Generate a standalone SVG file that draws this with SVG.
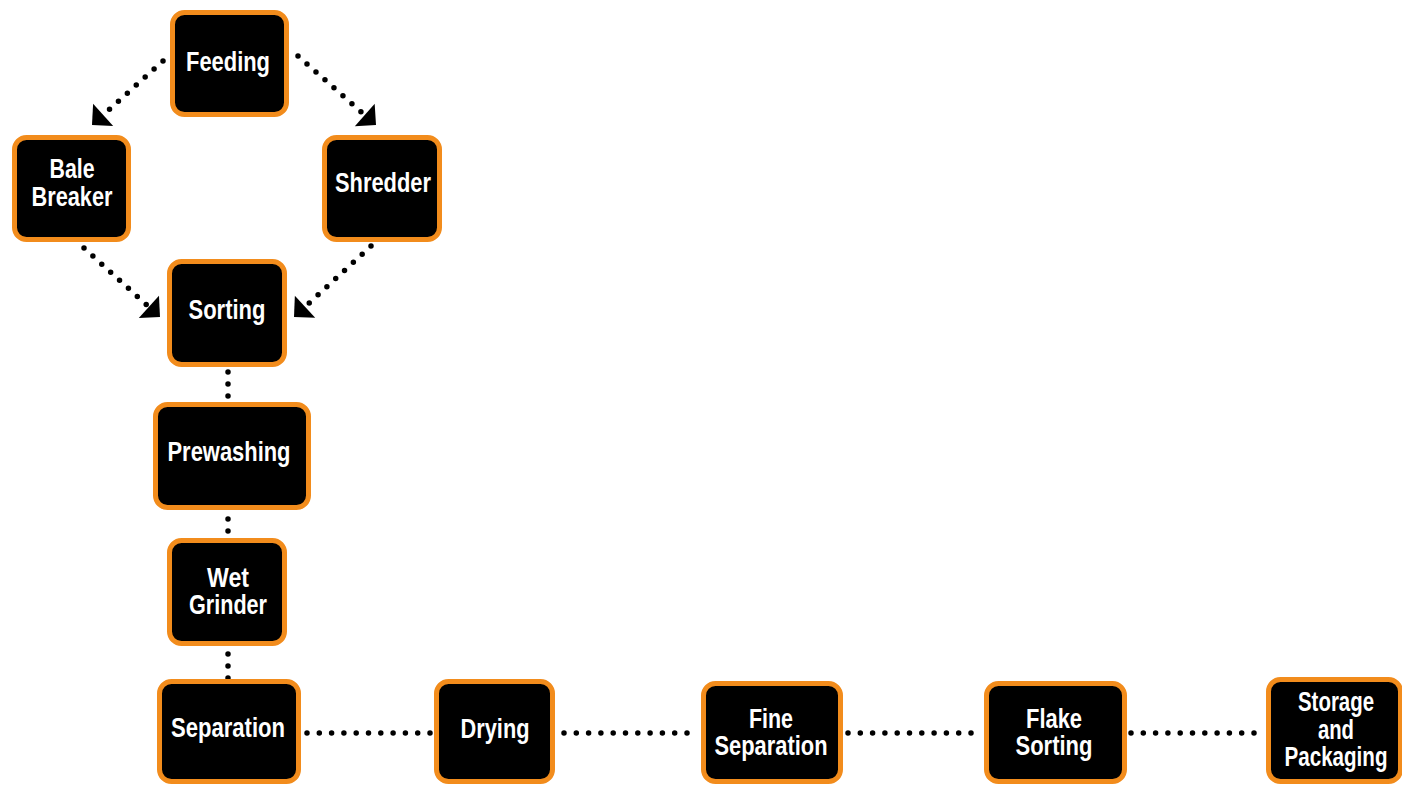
<svg xmlns="http://www.w3.org/2000/svg" width="1402" height="785" viewBox="0 0 1402 785">
<style>
.box{fill:#000;stroke:#F28C1C;stroke-width:5}
.lbl{font-family:"Liberation Sans",Arial,sans-serif;font-weight:bold;font-size:27px;fill:#fff;text-anchor:middle}
.dot{fill:none;stroke:#000;stroke-width:5.5;stroke-linecap:round;stroke-dasharray:0 12}
.doth{fill:none;stroke:#000;stroke-width:5.5;stroke-linecap:round;stroke-dasharray:0 12.3}
</style>
<defs>
<marker id="ah" markerUnits="userSpaceOnUse" viewBox="-16 -16 32 32" refX="0" refY="0" markerWidth="32" markerHeight="32" orient="auto">
<path d="M-15,-15 L0,0 L-15,15 Z" fill="#000"/>
</marker>
</defs>
<rect width="1402" height="785" fill="#fff"/>
<g id="connectors">
<path class="dot" d="M163,61 L92,125" marker-end="url(#ah)"/>
<path class="dot" d="M298,56 L376,125" marker-end="url(#ah)"/>
<path class="dot" d="M84,248 L160,317" marker-end="url(#ah)"/>
<path class="dot" d="M371,246 L294,317" marker-end="url(#ah)"/>
<path class="dot" d="M228,372 L228,398"/>
<path class="dot" d="M228,519 L228,533"/>
<path class="dot" d="M228,654 L228,680"/>
<path class="doth" d="M307,733 L432,733"/>
<path class="doth" d="M564,733 L697,733"/>
<path class="doth" d="M848,733 L980,733"/>
<path class="doth" d="M1131,733 L1263,733"/>
</g>
<g id="feeding"><rect class="box" x="172.5" y="12.5" width="114" height="102" rx="12"/><text class="lbl" x="228" y="71" textLength="84" lengthAdjust="spacingAndGlyphs">Feeding</text></g>
<g id="bale-breaker"><rect class="box" x="14.5" y="137.5" width="114" height="102" rx="12"/><text class="lbl" x="72" y="178" textLength="45" lengthAdjust="spacingAndGlyphs">Bale</text><text class="lbl" x="72" y="206" textLength="81" lengthAdjust="spacingAndGlyphs">Breaker</text></g>
<g id="shredder"><rect class="box" x="324.5" y="137.5" width="115" height="102" rx="12"/><text class="lbl" x="383" y="192" textLength="96" lengthAdjust="spacingAndGlyphs">Shredder</text></g>
<g id="sorting"><rect class="box" x="169.5" y="261.5" width="115" height="103" rx="12"/><text class="lbl" x="227" y="319" textLength="77" lengthAdjust="spacingAndGlyphs">Sorting</text></g>
<g id="prewashing"><rect class="box" x="155.5" y="404.5" width="153" height="103" rx="12"/><text class="lbl" x="229" y="461" textLength="123" lengthAdjust="spacingAndGlyphs">Prewashing</text></g>
<g id="wet-grinder"><rect class="box" x="169.5" y="540.5" width="115" height="103" rx="12"/><text class="lbl" x="228" y="587" textLength="42" lengthAdjust="spacingAndGlyphs">Wet</text><text class="lbl" x="228" y="614" textLength="78" lengthAdjust="spacingAndGlyphs">Grinder</text></g>
<g id="separation"><rect class="box" x="159.5" y="681.5" width="139" height="100" rx="12"/><text class="lbl" x="228" y="737" textLength="114" lengthAdjust="spacingAndGlyphs">Separation</text></g>
<g id="drying"><rect class="box" x="436.5" y="681.5" width="116" height="100" rx="12"/><text class="lbl" x="495" y="738" textLength="69" lengthAdjust="spacingAndGlyphs">Drying</text></g>
<g id="fine-separation"><rect class="box" x="703.5" y="683.5" width="137" height="98" rx="12"/><text class="lbl" x="771" y="728" textLength="44" lengthAdjust="spacingAndGlyphs">Fine</text><text class="lbl" x="771" y="755" textLength="113" lengthAdjust="spacingAndGlyphs">Separation</text></g>
<g id="flake-sorting"><rect class="box" x="986.5" y="683.5" width="138" height="98" rx="12"/><text class="lbl" x="1054" y="728" textLength="56" lengthAdjust="spacingAndGlyphs">Flake</text><text class="lbl" x="1054" y="755" textLength="77" lengthAdjust="spacingAndGlyphs">Sorting</text></g>
<g id="storage-packaging"><rect class="box" x="1268.5" y="679.5" width="132" height="102" rx="12"/><text class="lbl" x="1336" y="711" textLength="76" lengthAdjust="spacingAndGlyphs">Storage</text><text class="lbl" x="1336" y="739" textLength="36" lengthAdjust="spacingAndGlyphs">and</text><text class="lbl" x="1336" y="766" textLength="103" lengthAdjust="spacingAndGlyphs">Packaging</text></g>
</svg>
